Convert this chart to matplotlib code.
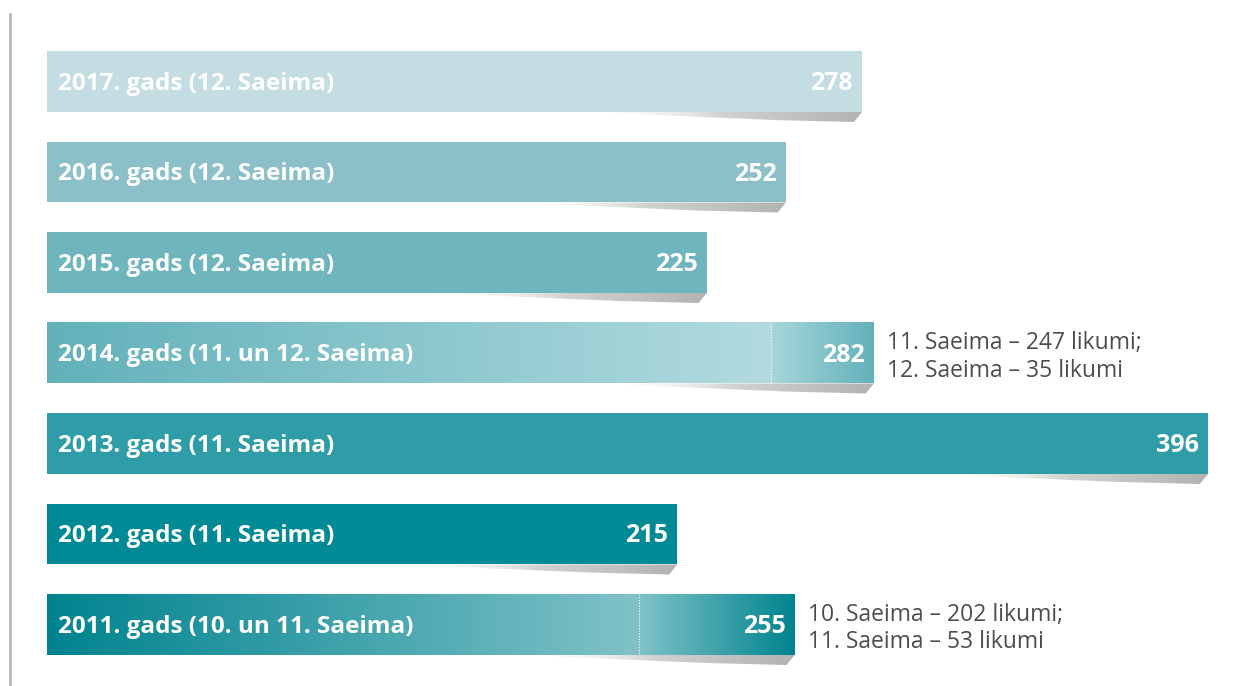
import numpy as np
import matplotlib
matplotlib.use('Agg')
from matplotlib import pyplot as plt
from matplotlib.colors import LinearSegmentedColormap
from matplotlib.patches import Polygon

# Pieņemto likumu skaits pa gadiem (no augšas uz leju)
labels = ['2017. gads (12. Saeima)', '2016. gads (12. Saeima)', '2015. gads (12. Saeima)',
          '2014. gads (11. un 12. Saeima)', '2013. gads (11. Saeima)', '2012. gads (11. Saeima)',
          '2011. gads (10. un 11. Saeima)']
totals = [278, 252, 225, 282, 396, 215, 255]
# sadalījums starp Saeimām (pirmā Saeima), None ja viena Saeima
split_first = [None, None, None, 247, None, None, 202]
notes = [None, None, None, '11. Saeima – 247 likumi;\n12. Saeima – 35 likumi',
         None, None, '10. Saeima – 202 likumi;\n11. Saeima – 53 likumi']

colors = ['#c3dde2', '#8bc0c9', '#6fb5be', None, '#2f9da8', '#008a96', None]
gradients = {3: ('#62b1ba', '#b2dbdf', '#a8d6da', '#62b1ba'),
             6: ('#00838f', '#80c2c8', '#80c2c8', '#00848f')}

plt.rcParams['font.family'] = ['Open Sans', 'DejaVu Sans']

fig = plt.figure(figsize=(12.33, 6.86), dpi=100)
ax = fig.add_axes([0, 0, 1, 1])
px = 2.932  # pikseļi uz vienību
xlim = (-47 / px, (1233 - 47) / px)
ylim = ((686 - 81.5) / 90.5, -81.5 / 90.5)
ax.axis('off')

h = 0.674
pxy = 1 / 90.5
y = np.arange(len(totals))
shadow_cm = LinearSegmentedColormap.from_list('sh', [(1, 1, 1, 0), (0.82, 0.82, 0.82, 1), (0.70, 0.70, 0.70, 1)])
grad = np.linspace(0, 1, 256).reshape(1, -1)

for i, tot in enumerate(totals):
    top = y[i] - h / 2
    bot = y[i] + h / 2
    # ēna zem stabiņa
    L = 95
    shadow = Polygon([(tot - L, bot), (tot, bot), (tot - 2.8, bot + 10 * pxy), (tot - 30, bot + 8 * pxy)],
                     closed=True, facecolor='none', edgecolor='none', transform=ax.transData)
    ax.add_patch(shadow)
    im = ax.imshow(grad, cmap=shadow_cm, aspect='auto', extent=(tot - L, tot, bot + 11 * pxy, bot),
                   zorder=1, interpolation='bicubic')
    im.set_clip_path(shadow)

    if split_first[i] is None:
        ax.barh(y[i], tot, height=h, left=0, color=colors[i], zorder=2)
    else:
        s = split_first[i]
        c1, c2, c3, c4 = gradients[i]
        cm1 = LinearSegmentedColormap.from_list('g1', [c1, c2])
        cm2 = LinearSegmentedColormap.from_list('g2', [c3, c4])
        ax.imshow(grad, cmap=cm1, aspect='auto', extent=(0, s, bot, top), zorder=2, interpolation='bicubic')
        ax.imshow(grad, cmap=cm2, aspect='auto', extent=(s, tot, bot, top), zorder=2, interpolation='bicubic')
        ax.plot([s, s], [top, bot], color='white', lw=0.8, ls=(0, (1, 1.5)), zorder=3)

    ty = y[i] + 2 * pxy
    ax.text(11 / px, ty, labels[i], color='white', fontsize=17.5, fontweight='bold',
            va='center', ha='left', zorder=4)
    ax.text(tot - 9 / px, ty, str(tot), color='white', fontsize=18, fontweight='bold',
            va='center', ha='right', zorder=4)
    if notes[i]:
        ax.text(tot + 13 / px, y[i] + 4 * pxy, notes[i], color='#4d4d4d', fontsize=16.5,
                va='center', ha='left', linespacing=1.2, zorder=4)

ax.set_xlim(*xlim)
ax.set_ylim(*ylim)

# vertikālā līnija kreisajā malā
fig.add_artist(plt.Line2D([10 / 1233, 10 / 1233], [0, 1 - 14 / 686], color='#b0b0b0', lw=1.8))

fig.savefig('out.png', dpi=100)
